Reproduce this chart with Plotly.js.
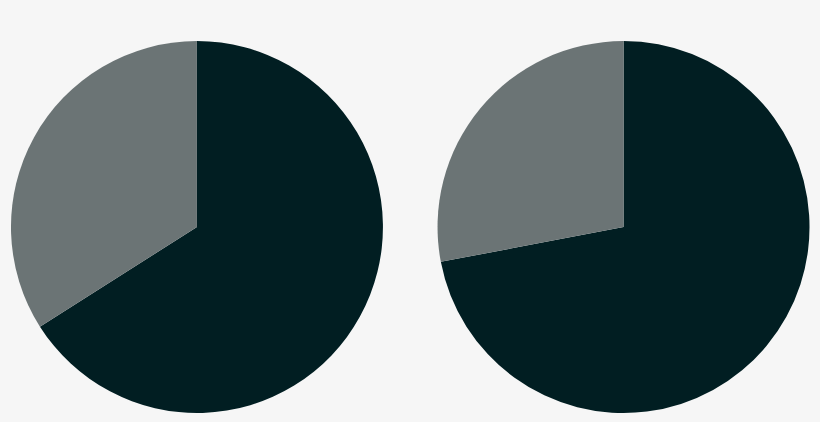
<!DOCTYPE html>
<html>
<head>
<meta charset="utf-8">
<script src="https://cdn.plot.ly/plotly-3.0.1.min.js"></script>
<style>
  html, body { margin: 0; padding: 0; background: #f6f6f6; }
  #chart { width: 820px; height: 422px; }
</style>
</head>
<body>
<div id="chart"></div>
<script>
// slice labels and shares (dark slice first, clockwise from 12 o'clock)
var labels = ['Main', 'Other']
var leftValues = [66, 34]
var rightValues = [72, 28]
var sliceColors = ['#011e22', '#6b7475']

function makePie(values, xDomain) {
  return {
    type: 'pie',
    labels: labels,
    values: values,
    sort: false,
    direction: 'clockwise',
    rotation: 0,
    textinfo: 'none',
    hoverinfo: 'label+percent',
    marker: { colors: sliceColors, line: { width: 0 } },
    domain: { x: xDomain, y: [0.0213, 0.9028] }
  }
}

var data = [
  makePie(leftValues, [0.0134, 0.467]),
  makePie(rightValues, [0.533, 0.9878])
]

var layout = {
  width: 820,
  height: 422,
  margin: { l: 0, r: 0, t: 0, b: 0 },
  paper_bgcolor: '#f6f6f6',
  plot_bgcolor: '#f6f6f6',
  showlegend: false
}

Plotly.newPlot('chart', data, layout, { displayModeBar: false, staticPlot: true })
</script>
</body>
</html>
